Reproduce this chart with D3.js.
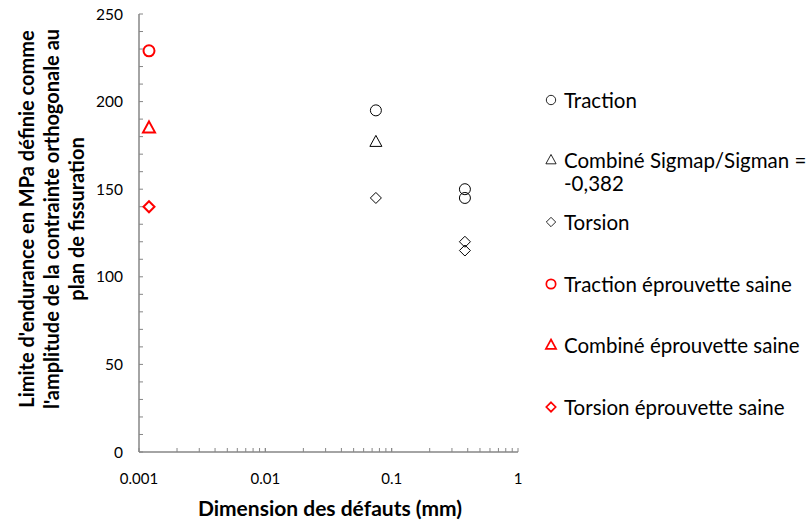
<!DOCTYPE html>
<html><head><meta charset="utf-8">
<script src="https://cdn.jsdelivr.net/npm/d3@7"></script>
<style>body{margin:0;background:#fff}svg{display:block}text{font-family:Lato,"Open Sans",sans-serif}</style>
</head><body>
<script>
const seriesNames = ["Traction","Combiné Sigmap/Sigman = -0,382","Torsion","Traction éprouvette saine","Combiné éprouvette saine","Torsion éprouvette saine"];
const tractionX = [0.075, 0.38, 0.38];
const tractionY = [195, 150, 145];
const combineX = [0.075];
const combineY = [177];
const torsionX = [0.075, 0.38, 0.38];
const torsionY = [145, 120, 115];
const tractionSaineX = [0.0012];
const tractionSaineY = [229];
const combineSaineX = [0.0012];
const combineSaineY = [185];
const torsionSaineX = [0.0012];
const torsionSaineY = [140];
const xTicks = [0.001, 0.01, 0.1, 1];
const xTickLabels = ["0.001","0.01","0.1","1"];
const yTicks = [0, 50, 100, 150, 200, 250];

const W = 810, H = 526;
const svg = d3.select("body").append("svg").attr("width", W).attr("height", H);
const x = d3.scaleLog().domain([0.001, 1]).range([139, 518]);
const y = d3.scaleLinear().domain([0, 250]).range([452, 14]);
const axisColor = "#868686";

// y axis
const yMinor = d3.range(0, 251, 10);
const gy = svg.append("g").attr("transform", "translate(139,0)");
gy.append("line").attr("x1",0).attr("x2",0).attr("y1",y(0)).attr("y2",y(250)).attr("stroke",axisColor).attr("stroke-width",1.5);
gy.selectAll(".mt").data(yMinor).join("line").attr("x1",0).attr("x2",4).attr("y1",d=>y(d)).attr("y2",d=>y(d)).attr("stroke",axisColor);
gy.selectAll(".lbl").data(yTicks).join("text").attr("x",-16).attr("y",d=>y(d)+5.5).attr("text-anchor","end").attr("font-size",15.5).attr("fill","#000").text(d=>d);

// x axis
const xMinor = [];
[0.001,0.01,0.1].forEach(b=>{for(let k=1;k<=10;k++) xMinor.push(b*k);});
const gx = svg.append("g");
gx.append("line").attr("x1",x(0.001)).attr("x2",x(1)).attr("y1",452).attr("y2",452).attr("stroke",axisColor).attr("stroke-width",1.5);
gx.selectAll(".mt").data(xMinor).join("line").attr("x1",d=>x(d)).attr("x2",d=>x(d)).attr("y1",452).attr("y2",448).attr("stroke",axisColor);
gx.selectAll(".lbl").data(xTicks).join("text").attr("x",d=>x(d)).attr("y",484).attr("text-anchor","middle").attr("font-size",15).text((d,i)=>xTickLabels[i]);

// titles
svg.append("text").attr("x",330).attr("y",516).attr("text-anchor","middle").attr("font-size",21).attr("font-weight","bold").text("Dimension des défauts (mm)");
const yt = svg.append("text").attr("transform","translate(0,219) rotate(-90)").attr("text-anchor","middle").attr("font-size",20).attr("font-weight","bold");
["Limite d'endurance en MPa définie comme","l'amplitude de la contrainte orthogonale au","plan de fissuration"].forEach((t,i)=>{
  yt.append("tspan").attr("x",0).attr("y",34+i*25).text(t);
});

// markers
function marker(g, type, cx, cy, color, sw) {
  if (type === "circle") g.append("circle").attr("cx",cx).attr("cy",cy).attr("r",5.5).attr("fill","none").attr("stroke",color).attr("stroke-width",sw);
  else if (type === "triangle") g.append("path").attr("d",`M${cx},${cy-6.5}L${cx+6},${cy+4.5}L${cx-6},${cy+4.5}Z`).attr("fill","none").attr("stroke",color).attr("stroke-width",sw);
  else g.append("path").attr("d",`M${cx},${cy-5.5}L${cx+5.5},${cy}L${cx},${cy+5.5}L${cx-5.5},${cy}Z`).attr("fill","none").attr("stroke",color).attr("stroke-width",sw);
}
const series = [
  {xs:tractionX, ys:tractionY, type:"circle", color:"#000", sw:1},
  {xs:combineX, ys:combineY, type:"triangle", color:"#000", sw:1},
  {xs:torsionX, ys:torsionY, type:"diamond", color:"#000", sw:1},
  {xs:tractionSaineX, ys:tractionSaineY, type:"circle", color:"#ff0000", sw:2},
  {xs:combineSaineX, ys:combineSaineY, type:"triangle", color:"#ff0000", sw:2},
  {xs:torsionSaineX, ys:torsionSaineY, type:"diamond", color:"#ff0000", sw:2}
];
const pts = svg.append("g");
series.forEach(s=>s.xs.forEach((xv,i)=>marker(pts, s.type, x(xv), y(s.ys[i]), s.color, s.sw)));

// legend
const legY = [101, 161, 223, 285, 346, 408];
const leg = svg.append("g");
series.forEach((s,i)=>{
  const g = leg.append("g").attr("transform",`translate(551,${legY[i]-1}) scale(0.85)`);
  marker(g, s.type, 0, 0, s.color, s.sw);
  const t = leg.append("text").attr("x",564).attr("y",legY[i]+7).attr("font-size",20.5);
  if (i===1) {
    t.append("tspan").attr("x",564).text("Combiné Sigmap/Sigman =");
    t.append("tspan").attr("x",564).attr("dy",23).text("-0,382");
  } else t.text(seriesNames[i]);
});
</script>
</body></html>
